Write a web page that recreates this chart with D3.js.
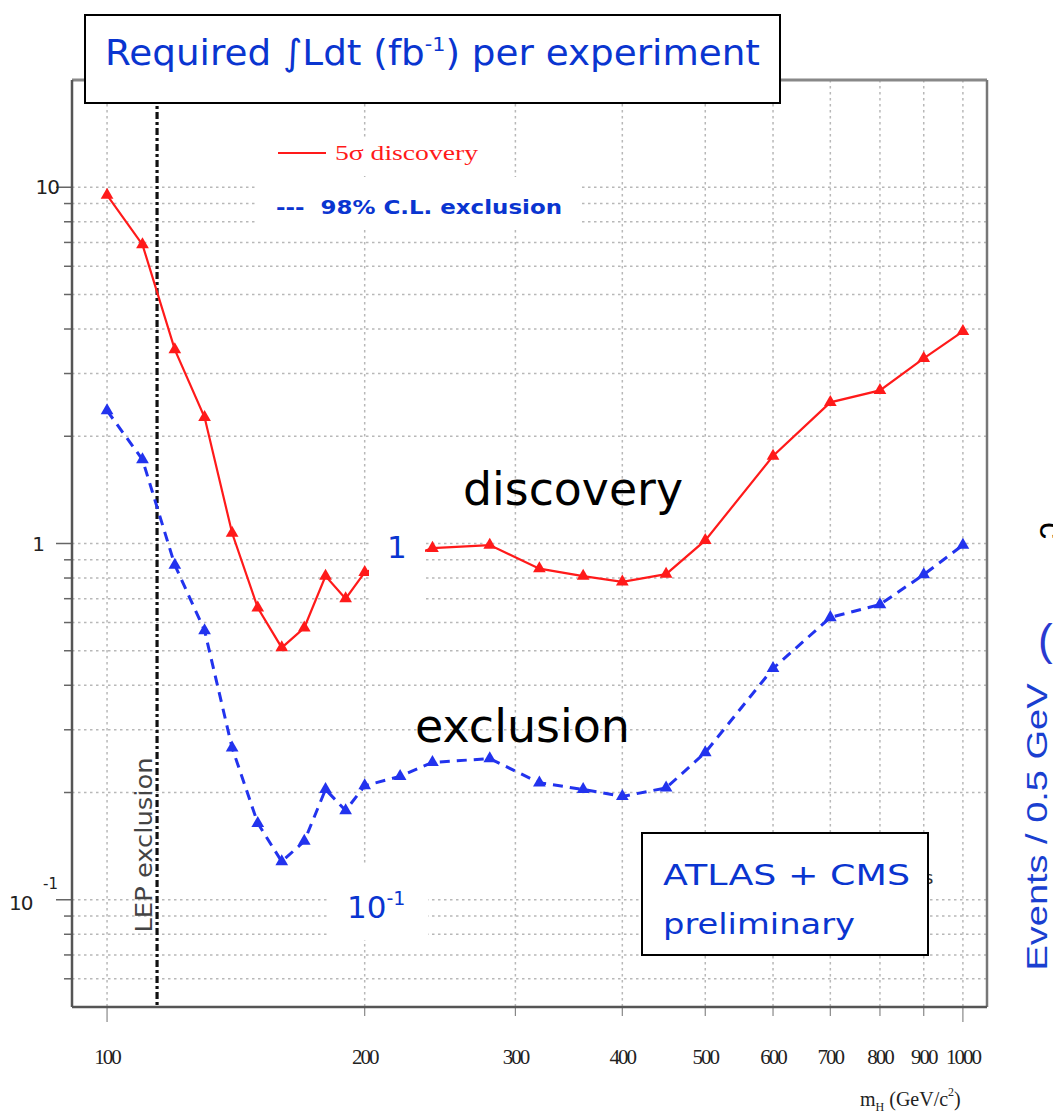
<!DOCTYPE html>
<html>
<head>
<meta charset="utf-8">
<script src="https://cdn.jsdelivr.net/npm/d3@7"></script>
<style>
  html, body { margin: 0; padding: 0; background: #fff; }
  svg { display: block; }
</style>
</head>
<body>
<script>
// Higgs mass points (GeV/c^2)
const mass = [100, 110, 120, 130, 140, 150, 160, 170, 180, 190, 200, 220, 240, 280, 320, 360, 400, 450, 500, 600, 700, 800, 900, 1000];
// Required integrated luminosity (fb^-1) for a 5 sigma discovery (220 GeV point not shown)
const discovery = [9.5, 6.9, 3.5, 2.26, 1.07, 0.66, 0.51, 0.58, 0.81, 0.70, 0.83, null, 0.97, 0.99, 0.85, 0.81, 0.78, 0.82, 1.02, 1.76, 2.49, 2.69, 3.31, 3.94];
// Required integrated luminosity (fb^-1) for a 98% C.L. exclusion
const exclusion = [2.36, 1.72, 0.87, 0.57, 0.267, 0.164, 0.128, 0.146, 0.204, 0.178, 0.209, 0.222, 0.243, 0.249, 0.213, 0.204, 0.195, 0.206, 0.259, 0.446, 0.62, 0.674, 0.818, 0.99];
// Axis ticks
const xTicks = [100, 200, 300, 400, 500, 600, 700, 800, 900, 1000];
const xTickLabels = ["100", "200", "300", "400", "500", "600", "700", "800", "900", "1000"];
const yMajor = [0.1, 1, 10];
const lepLimit = 114.4;

const W = 1053, H = 1117;
const plot = { left: 72, right: 987, top: 80, bottom: 1007 };

const svg = d3.select("body").append("svg").attr("width", W).attr("height", H);

const x = d3.scaleLog().domain([91, 1067]).range([plot.left, plot.right]);
const y = d3.scaleLog().domain([0.05, 20]).range([plot.bottom, plot.top]);

const gridColor = "#b8b8b8";
const yMinor = y.ticks().filter(v => v > 0.05 && v < 20);

// horizontal grid (all decades and sub-decades)
svg.append("g").selectAll("line").data(yMinor).join("line")
  .attr("x1", plot.left).attr("x2", plot.right)
  .attr("y1", d => y(d)).attr("y2", d => y(d))
  .attr("stroke", gridColor).attr("stroke-width", 1.5).attr("stroke-dasharray", "2.5 3.5");

// vertical grid
svg.append("g").selectAll("line").data(xTicks).join("line")
  .attr("x1", d => x(d)).attr("x2", d => x(d))
  .attr("y1", plot.top).attr("y2", plot.bottom)
  .attr("stroke", gridColor).attr("stroke-width", 1.5).attr("stroke-dasharray", "2.5 3.5");

// left axis ticks
svg.append("g").selectAll("line").data(yMinor).join("line")
  .attr("x1", d => yMajor.includes(+d.toPrecision(3)) ? plot.left - 16 : plot.left - 8)
  .attr("x2", plot.left)
  .attr("y1", d => y(d)).attr("y2", d => y(d))
  .attr("stroke", "#666").attr("stroke-width", 1.5);

// bottom axis ticks
svg.append("g").selectAll("line").data(xTicks).join("line")
  .attr("x1", d => x(d)).attr("x2", d => x(d))
  .attr("y1", plot.bottom)
  .attr("y2", d => (d === 100 || d === 1000) ? plot.bottom + 15 : plot.bottom + 9)
  .attr("stroke", "#888").attr("stroke-width", 1.2);

// frame
svg.append("line").attr("x1", plot.left).attr("x2", plot.right).attr("y1", plot.top).attr("y2", plot.top)
  .attr("stroke", "#888").attr("stroke-width", 3);
svg.append("line").attr("x1", plot.right).attr("x2", plot.right).attr("y1", plot.top).attr("y2", plot.bottom)
  .attr("stroke", "#777").attr("stroke-width", 2.5);
svg.append("line").attr("x1", plot.left).attr("x2", plot.left).attr("y1", plot.top).attr("y2", plot.bottom)
  .attr("stroke", "#555").attr("stroke-width", 2.5);
svg.append("line").attr("x1", plot.left).attr("x2", plot.right).attr("y1", plot.bottom).attr("y2", plot.bottom)
  .attr("stroke", "#555").attr("stroke-width", 2.5);

// y tick labels
const yLab = svg.append("g").attr("font-family", "DejaVu Sans, sans-serif").attr("fill", "#222").attr("font-size", 20);
yLab.append("text").attr("x", 59).attr("y", y(10) + 7).attr("text-anchor", "end").attr("letter-spacing", -1).text("10");
yLab.append("text").attr("x", 45).attr("y", y(1) + 7).attr("text-anchor", "end").text("1");
yLab.append("text").attr("x", 9).attr("y", y(0.1) + 10).attr("letter-spacing", -1).text("10");
yLab.append("text").attr("x", 43).attr("y", y(0.1) - 11).attr("font-size", 15).text("-1");

// x tick labels
svg.append("g").selectAll("text").data(xTicks).join("text")
  .attr("x", d => x(d)).attr("y", 1064)
  .attr("text-anchor", "middle")
  .attr("font-family", "Liberation Serif, serif").attr("font-size", 21).attr("fill", "#222")
  .attr("letter-spacing", -2)
  .text((d, i) => xTickLabels[i]);

// x axis title: m_H (GeV/c^2)
const xt = svg.append("text").attr("x", 860).attr("y", 1106)
  .attr("font-family", "Liberation Serif, serif").attr("font-size", 20).attr("fill", "#222");
xt.append("tspan").text("m");
xt.append("tspan").attr("font-size", 12).attr("dy", 5).text("H");
xt.append("tspan").attr("dy", -5).text(" (GeV/c");
xt.append("tspan").attr("font-size", 12).attr("dy", -10).text("2");
xt.append("tspan").attr("dy", 10).text(")");

// LEP exclusion limit
svg.append("line").attr("x1", x(lepLimit)).attr("x2", x(lepLimit))
  .attr("y1", plot.top).attr("y2", plot.bottom)
  .attr("stroke", "#111").attr("stroke-width", 3.2).attr("stroke-dasharray", "7 3 3 3");
svg.append("text")
  .attr("transform", `translate(${x(lepLimit) - 5},845) rotate(-90)`)
  .attr("text-anchor", "middle")
  .attr("font-family", "DejaVu Sans, sans-serif").attr("font-size", 23).attr("fill", "#444")
  .attr("textLength", 175).attr("lengthAdjust", "spacingAndGlyphs")
  .text("LEP exclusion");

// data series
const discPts = mass.map((m, i) => [m, discovery[i]]).filter(d => d[1] != null);
const exclPts = mass.map((m, i) => [m, exclusion[i]]);
const line = d3.line().x(d => x(d[0])).y(d => y(d[1]));
const red = "#ff1a1a", blue = "#2233ee";

svg.append("path").datum(exclPts).attr("d", line)
  .attr("fill", "none").attr("stroke", blue).attr("stroke-width", 3).attr("stroke-dasharray", "10 7");
svg.append("path").datum(discPts).attr("d", line)
  .attr("fill", "none").attr("stroke", red).attr("stroke-width", 2.2);

const tri = d3.symbol().type(d3.symbolTriangle).size(70);
svg.append("g").selectAll("path").data(exclPts).join("path")
  .attr("transform", d => `translate(${x(d[0])},${y(d[1])})`).attr("d", tri).attr("fill", blue);
svg.append("g").selectAll("path").data(discPts).join("path")
  .attr("transform", d => `translate(${x(d[0])},${y(d[1])})`).attr("d", tri).attr("fill", red);

// legend
svg.append("rect").attr("x", 265).attr("y", 137).attr("width", 235).attr("height", 38).attr("fill", "#fff");
svg.append("line").attr("x1", 278).attr("x2", 326).attr("y1", 153).attr("y2", 153)
  .attr("stroke", red).attr("stroke-width", 2.2);
svg.append("text").attr("x", 335).attr("y", 160)
  .attr("font-family", "Liberation Serif, serif").attr("font-size", 22).attr("fill", red)
  .attr("textLength", 143).attr("lengthAdjust", "spacingAndGlyphs")
  .text("5σ discovery");
svg.append("rect").attr("x", 255).attr("y", 177).attr("width", 327).attr("height", 52).attr("fill", "#fff");
svg.append("text").attr("x", 276).attr("y", 214)
  .attr("font-family", "DejaVu Sans, sans-serif").attr("font-weight", "bold").attr("font-size", 19)
  .attr("fill", "#0a35d0").attr("textLength", 286).attr("lengthAdjust", "spacingAndGlyphs")
  .attr("xml:space", "preserve")
  .text("---  98% C.L. exclusion");

// annotations placed over the plot
svg.append("rect").attr("x", 369).attr("y", 515).attr("width", 56).attr("height", 88).attr("fill", "#fff");
svg.append("text").attr("x", 387).attr("y", 558)
  .attr("font-family", "DejaVu Sans, sans-serif").attr("font-size", 31).attr("fill", "#0a35d0").text("1");
svg.append("rect").attr("x", 328).attr("y", 865).attr("width", 100).attr("height", 75).attr("fill", "#fff");
const tm1 = svg.append("text").attr("x", 347).attr("y", 918)
  .attr("font-family", "DejaVu Sans, sans-serif").attr("font-size", 31).attr("fill", "#0a35d0");
tm1.append("tspan").text("10");
tm1.append("tspan").attr("font-size", 19).attr("dy", -13).text("-1");

svg.append("text").attr("x", 463).attr("y", 505)
  .attr("font-family", "DejaVu Sans, sans-serif").attr("font-size", 46).attr("fill", "#000")
  .attr("textLength", 220).attr("lengthAdjust", "spacingAndGlyphs").text("discovery");
svg.append("text").attr("x", 415).attr("y", 742)
  .attr("font-family", "DejaVu Sans, sans-serif").attr("font-size", 46).attr("fill", "#000")
  .attr("textLength", 215).attr("lengthAdjust", "spacingAndGlyphs").text("exclusion");

// ATLAS + CMS box
svg.append("text").attr("x", 924).attr("y", 884)
  .attr("font-family", "DejaVu Sans, sans-serif").attr("font-size", 18).attr("fill", "#333").text("s");
svg.append("rect").attr("x", 642).attr("y", 833).attr("width", 286).attr("height", 122)
  .attr("fill", "#fff").attr("stroke", "#000").attr("stroke-width", 2);
svg.append("text").attr("x", 663).attr("y", 885)
  .attr("font-family", "DejaVu Sans, sans-serif").attr("font-size", 29).attr("fill", "#0a35d0")
  .attr("textLength", 247).attr("lengthAdjust", "spacingAndGlyphs").text("ATLAS + CMS");
svg.append("text").attr("x", 663).attr("y", 934)
  .attr("font-family", "DejaVu Sans, sans-serif").attr("font-size", 29).attr("fill", "#0a35d0")
  .attr("textLength", 192).attr("lengthAdjust", "spacingAndGlyphs").text("preliminary");

// title box
svg.append("rect").attr("x", 85).attr("y", 15).attr("width", 695).attr("height", 88)
  .attr("fill", "#fff").attr("stroke", "#000").attr("stroke-width", 2);
const title = svg.append("text").attr("x", 105).attr("y", 65)
  .attr("font-family", "DejaVu Sans, sans-serif").attr("font-size", 36).attr("fill", "#0a35d0")
  .attr("textLength", 655).attr("lengthAdjust", "spacingAndGlyphs");
title.append("tspan").text("Required ∫Ldt (fb");
title.append("tspan").attr("font-size", 20).attr("dy", -14).text("-1");
title.append("tspan").attr("dy", 14).text(") per experiment");

// neighbouring panel fragments at the right edge
svg.append("text")
  .attr("transform", "translate(1047,827) rotate(-90)")
  .attr("text-anchor", "middle")
  .attr("font-family", "Liberation Sans, sans-serif").attr("font-size", 30).attr("fill", "#1a3fd0")
  .attr("textLength", 287).attr("lengthAdjust", "spacingAndGlyphs")
  .text("Events / 0.5 GeV");
svg.append("text").attr("x", 1038).attr("y", 655)
  .attr("font-family", "Liberation Sans, sans-serif").attr("font-size", 44).attr("fill", "#2a3ad0").text("(");
svg.append("text").attr("transform", "translate(1040,522) rotate(90)")
  .attr("font-family", "Liberation Sans, sans-serif").attr("font-size", 34).attr("fill", "#000").text("c");
</script>
</body>
</html>
